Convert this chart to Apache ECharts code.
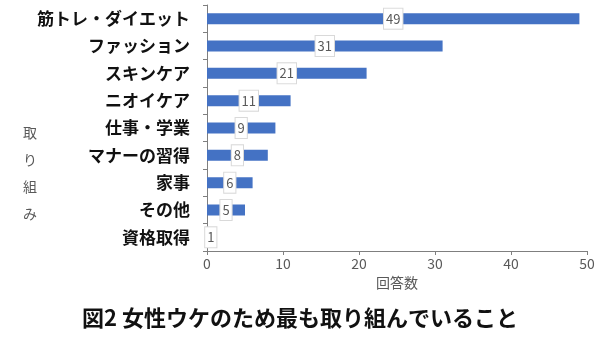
<!DOCTYPE html>
<html>
<head>
<meta charset="utf-8">
<script src="https://cdn.jsdelivr.net/npm/echarts@6/dist/echarts.min.js"></script>
<style>
  html, body { margin: 0; padding: 0; background: #fff; }
  #chart { width: 600px; height: 337px; }
</style>
</head>
<body>
<div id="chart"></div>
<script>
// Survey: what men work on most to be liked by women
const categories = ['筋トレ・ダイエット', 'ファッション', 'スキンケア', 'ニオイケア', '仕事・学業', 'マナーの習得', '家事', 'その他', '資格取得'];
const counts = [49, 31, 21, 11, 9, 8, 6, 5, 1];
const xTicks = [0, 10, 20, 30, 40, 50];

const FONT = '"Noto Sans CJK JP", "Noto Sans", sans-serif';
const chart = echarts.init(document.getElementById('chart'));

chart.setOption({
  animation: false,
  textStyle: { fontFamily: FONT },
  title: {
    text: '図2 女性ウケのため最も取り組んでいること',
    left: 'center',
    top: 302,
    textStyle: { fontFamily: FONT, fontSize: 22, fontWeight: 'bold', color: '#111' }
  },
  grid: { left: 207, right: 13, top: 5, bottom: 86, containLabel: false },
  xAxis: {
    type: 'value',
    min: xTicks[0],
    max: xTicks[xTicks.length - 1],
    interval: 10,
    name: '回答数',
    nameLocation: 'middle',
    nameGap: 23,
    nameTextStyle: { color: '#595959', fontSize: 14, fontFamily: FONT },
    axisLine: { show: true, lineStyle: { color: '#7f7f7f', width: 1 } },
    axisTick: { show: true, length: 4, lineStyle: { color: '#7f7f7f' } },
    axisLabel: { color: '#595959', fontSize: 14, margin: 6 },
    splitLine: { show: false }
  },
  yAxis: {
    type: 'category',
    data: categories,
    inverse: true,
    axisLine: { show: true, lineStyle: { color: '#7f7f7f', width: 1 } },
    axisTick: { show: true, length: 4, lineStyle: { color: '#7f7f7f' } },
    axisLabel: { color: '#111', fontSize: 17, fontWeight: 'bold', margin: 17 }
  },
  graphic: [{
    type: 'text',
    left: 23,
    top: 119,
    style: {
      text: '取\nり\n組\nみ',
      font: '14px ' + FONT,
      fill: '#595959',
      lineHeight: 27,
      align: 'center'
    }
  }],
  series: [{
    type: 'bar',
    data: counts,
    barWidth: 11,
    itemStyle: { color: '#4472C4' },
    label: {
      show: true,
      position: 'inside',
      color: '#595959',
      fontSize: 13,
      backgroundColor: '#fff',
      borderColor: '#d9d9d9',
      borderWidth: 1,
      padding: [4, 2, 3, 2]
    }
  }]
});
</script>
</body>
</html>
